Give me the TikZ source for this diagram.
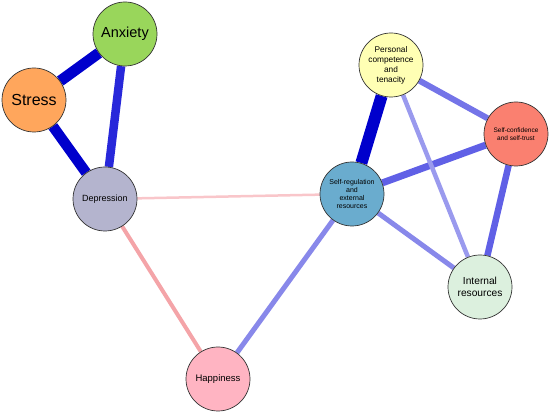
\documentclass[tikz,border=0pt]{standalone}
\usepackage{fontspec}
\setmainfont{Liberation Sans}
\usetikzlibrary{backgrounds}
\definecolor{anxfill}{RGB}{153,214,91}
\definecolor{strfill}{RGB}{255,166,92}
\definecolor{depfill}{RGB}{180,180,206}
\definecolor{hapfill}{RGB}{255,180,194}
\definecolor{perfill}{RGB}{255,255,180}
\definecolor{conffill}{RGB}{250,128,112}
\definecolor{regfill}{RGB}{106,172,206}
\definecolor{intfill}{RGB}{220,240,222}
\definecolor{posA}{RGB}{0,0,204}
\definecolor{posB}{RGB}{40,40,218}
\definecolor{posC}{RGB}{96,96,230}
\definecolor{posD}{RGB}{116,116,232}
\definecolor{posE}{RGB}{136,136,234}
\definecolor{posF}{RGB}{154,154,238}
\definecolor{negA}{RGB}{244,164,168}
\definecolor{negB}{RGB}{249,198,202}

\begin{document}
\begin{tikzpicture}[x=1pt,y=-1pt,
    var/.style={circle,draw=black!80,line width=0.7pt,minimum size=64pt,
                inner sep=0pt,align=center},
    tie/.style={line cap=butt}]
     \useasboundingbox (0,0) rectangle (550,414);
     \node[var,fill=anxfill,font=\fontsize{14.5}{16}\selectfont] (anx) at (125,34) {Anxiety};
     \node[var,fill=strfill,font=\fontsize{16}{18}\selectfont] (str) at (34,100) {Stress};
     \node[var,fill=depfill,font=\fontsize{9}{11}\selectfont] (dep) at (105,199) {Depression};
     \node[var,fill=hapfill,font=\fontsize{9.5}{11}\selectfont] (hap) at (218,379) {Happiness};
     \node[var,fill=perfill,font=\fontsize{8.3}{10}\selectfont] (per) at (391,65)
       {Personal\\competence\\and\\tenacity};
     \node[var,fill=conffill,font=\fontsize{6.5}{8}\selectfont] (conf) at (516,134)
       {Self-confidence\\and self-trust};
     \node[var,fill=regfill,font=\fontsize{7}{8.2}\selectfont] (reg) at (352,194)
       {Self-regulation\\and\\external\\resources};
     \node[var,fill=intfill,font=\fontsize{10.2}{12}\selectfont] (int) at (480,287)
       {Internal\\resources};
     \begin{scope}[on background layer]
      \draw[tie,posA,line width=11pt] (str) -- (anx);
      \draw[tie,posA,line width=10.5pt] (str) -- (dep);
      \draw[tie,posB,line width=8.5pt] (anx) -- (dep);
      \draw[tie,posA,line width=12pt] (per) -- (reg);
      \draw[tie,posC,line width=7pt] (reg) -- (conf);
      \draw[tie,posD,line width=6pt] (per) -- (conf);
      \draw[tie,posC,line width=6.5pt] (conf) -- (int);
      \draw[tie,posF,line width=4.5pt] (per) -- (int);
      \draw[tie,posE,line width=5pt] (reg) -- (int);
      \draw[tie,posE,line width=5pt] (reg) -- (hap);
      \draw[tie,negA,line width=4pt] (dep) -- (hap);
      \draw[tie,negB,line width=2.5pt] (dep) -- (reg);
     \end{scope}
    \end{tikzpicture}
\end{document}
